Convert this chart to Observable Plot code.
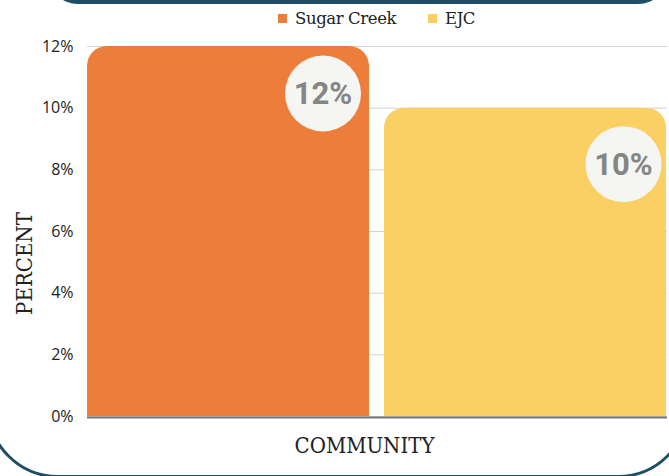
<!DOCTYPE html>
<html>
<head>
<meta charset="utf-8">
<script src="https://cdn.jsdelivr.net/npm/d3@7"></script>
<script src="https://cdn.jsdelivr.net/npm/@observablehq/plot@0.6"></script>
<style>
  html, body { margin: 0; padding: 0; background: #fff; }
  #wrap { position: relative; width: 669px; height: 476px; overflow: hidden; }
  #legend { height: 36px; position: relative; color: #222; }
  .lt { font-family: 'DejaVu Serif', serif; font-size: 16.5px; letter-spacing: -0.4px; }
  .sw { display: inline-block; width: 9px; height: 9px; margin-right: 8px; }
  .item { display: flex; align-items: center; position: absolute; top: 9px; }
  #deco { position: absolute; left: 0; top: 0; pointer-events: none; }
  .slab { font-stretch: condensed; }
</style>
</head>
<body>
<div id="wrap">
  <svg id="deco" width="669" height="476">
    <rect x="48" y="-60" width="620" height="64" rx="30" fill="#1d4e66"></rect>
    <rect x="-12" y="-200" width="700" height="676.5" rx="70" fill="none" stroke="#1d4e66" stroke-width="3"></rect>
  </svg>
  <div id="legend"></div>
  <div id="chart"></div>
</div>
<script>
const categories = ["Sugar Creek", "EJC"];
const values = [0.12, 0.10];
const colors = ["#ED7D3A", "#FAD065"];
const yTicks = [0, 0.02, 0.04, 0.06, 0.08, 0.10, 0.12];
const xLabel = "COMMUNITY";
const yLabel = "PERCENT";

const data = categories.map((c, i) => ({community: c, value: values[i]}));

// legend
const legend = document.getElementById("legend");
const legendX = [278, 428];
categories.forEach((c, i) => {
  const it = document.createElement("div");
  it.className = "item";
  it.style.left = legendX[i] + "px";
  const sw = document.createElement("span");
  sw.className = "sw";
  sw.style.background = colors[i];
  const tx = document.createElement("span");
  tx.className = "lt";
  tx.textContent = c;
  it.appendChild(sw); it.appendChild(tx);
  legend.appendChild(it);
});

const fmt = d => Math.round(d * 100) + "%";
const offsets = {"Sugar Creek": [94.5, 47], "EJC": [98, 56]};
const slabFont = "'DejaVu Serif Condensed', 'DejaVu Serif', serif";

const labelMarks = categories.flatMap(c => {
  const sub = data.filter(d => d.community === c);
  const [dx, dy] = offsets[c];
  return [
    Plot.dot(sub, {x: "community", y: "value", r: 38, fill: "#F5F5F2", stroke: "none", dx, dy}),
    Plot.text(sub, {x: "community", y: "value", text: d => fmt(d.value), dx, dy: dy + 1,
      fill: "#858585", fontSize: 31, fontWeight: "bold", fontFamily: "Roboto, sans-serif"})
  ];
});

const chart = Plot.plot({
  width: 669,
  height: 440,
  marginTop: 10,
  marginBottom: 60,
  marginLeft: 87,
  marginRight: 2,
  style: {fontFamily: "'Open Sans', sans-serif", fontSize: "16px", color: "#222", background: "transparent"},
  x: {domain: categories, range: [87, 667], paddingInner: 0.05, paddingOuter: 0, axis: null},
  y: {domain: [0, 0.12], ticks: yTicks, tickFormat: fmt, tickSize: 0, tickPadding: 14, label: null},
  color: {domain: categories, range: colors},
  marks: [
    Plot.gridY(yTicks, {stroke: "#d4d4d4", strokeOpacity: 1, strokeWidth: 1}),
    Plot.ruleY([0], {stroke: "#777", strokeWidth: 2, dy: 1}),
    Plot.barY(data, {x: "community", y: "value", fill: "community", rx: 20}),
    Plot.barY(data, {x: "community", y1: 0, y2: d => d.value / 2, fill: "community"}),
    Plot.axisY(yTicks, {tickFormat: fmt, tickSize: 0, tickPadding: 14, label: null, fontSize: 16}),
    ...labelMarks,
    Plot.text([xLabel], {frameAnchor: "bottom", text: d => d, dx: -13, dy: 36, className: "slab",
      fontFamily: slabFont, fontSize: 22, fill: "#222"}),
    Plot.text([yLabel], {frameAnchor: "left", textAnchor: "middle", text: d => d, rotate: -90, dx: -63, dy: 32,
      className: "slab", fontFamily: slabFont, fontSize: 22, fill: "#222"})
  ]
});
document.getElementById("chart").appendChild(chart);
</script>
</body>
</html>
